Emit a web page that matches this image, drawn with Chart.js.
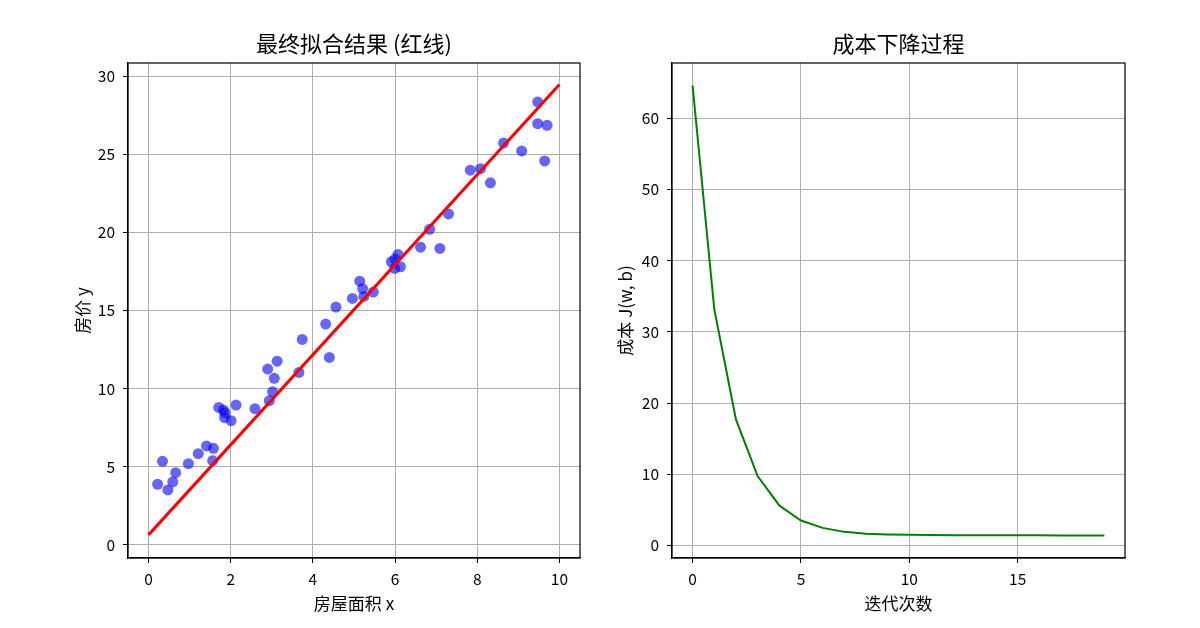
<!DOCTYPE html>
<html>
<head>
<meta charset="utf-8">
<script src="https://cdn.jsdelivr.net/npm/chart.js@4.4.1/dist/chart.umd.min.js"></script>
<style>
  html, body { margin: 0; padding: 0; background: #fff; }
  #wrap { position: relative; width: 1200px; height: 628px; }
  .cv { position: absolute; top: 0; width: 600px; height: 628px; }
</style>
</head>
<body>
<div id="wrap">
  <div class="cv" style="left:0"><canvas id="c1"></canvas></div>
  <div class="cv" style="left:600px"><canvas id="c2"></canvas></div>
</div>
<script>
// ---- data ----
const houseArea = [0.22,0.34,0.47,0.59,0.66,0.97,1.21,1.41,1.58,1.56,
                   1.71,1.82,1.86,1.85,2.01,2.13,2.59,2.94,3.02,2.90,
                   3.06,3.13,3.66,3.74,4.31,4.40,4.56,4.96,5.14,5.21,
                   5.24,5.47,5.91,6.07,5.99,6.13,6.00,6.62,6.84,7.09,
                   7.30,7.83,8.08,8.32,8.64,9.08,9.47,9.47,9.70,9.64];
const housePrice = [3.88,5.35,3.52,4.03,4.62,5.20,5.84,6.33,6.18,5.39,
                    8.80,8.63,8.45,8.14,7.95,8.95,8.72,9.23,9.80,11.25,
                    10.66,11.76,11.04,13.15,14.13,12.00,15.22,15.77,16.88,16.40,
                    15.90,16.18,18.12,18.59,17.69,17.80,18.30,19.05,20.20,18.97,
                    21.18,23.98,24.08,23.17,25.72,25.21,28.35,26.96,26.85,24.57];
const fitX = [0, 10];
const fitY = [0.64, 29.46];
const iterations = [0,1,2,3,4,5,6,7,8,9,10,11,12,13,14,15,16,17,18,19];
const cost = [64.6,33.2,17.7,9.74,5.62,3.51,2.47,1.91,1.63,1.55,
              1.49,1.47,1.45,1.44,1.43,1.42,1.42,1.41,1.41,1.41];
const leftXTicks = [0,2,4,6,8,10];
const leftYTicks = [0,5,10,15,20,25,30];
const rightXTicks = [0,5,10,15];
const rightYTicks = [0,10,20,30,40,50,60];

const FONT = '"Noto Sans CJK SC", "Noto Sans", sans-serif';

const framePlugin = {
  id: 'frame',
  afterDatasetsDraw(chart) {
    const {ctx, chartArea: a} = chart;
    ctx.save();
    ctx.strokeStyle = '#000';
    ctx.lineWidth = 1.2;
    ctx.strokeRect(a.left, a.top, a.right - a.left, a.bottom - a.top);
    ctx.restore();
  }
};

function fixedTicks(vals) {
  return function (scale) { scale.ticks = vals.map(v => ({value: v})); };
}

function axis(min, max, ticks, title, isX, fitSize) {
  return {
    type: 'linear',
    position: isX ? 'bottom' : 'left',
    min: min, max: max,
    afterBuildTicks: fixedTicks(ticks),
    afterFit(scale) { if (isX) scale.height = fitSize; else scale.width = fitSize; },
    grid: { color: '#b0b0b0', lineWidth: 1, tickColor: '#000', tickLength: 5, drawTicks: true },
    border: { display: true, color: '#000', width: 1.2 },
    ticks: { color: '#000', font: { family: FONT, size: 15.5 }, padding: isX ? 7 : 8,
             maxRotation: 0, autoSkip: false },
    title: { display: true, text: title, color: '#000', font: { family: FONT, size: 17 },
             padding: 0 }
  };
}

function titleOpt(text) {
  return { display: true, text: text, color: '#000', fullSize: false,
           font: { family: FONT, size: 22, weight: 'normal' },
           padding: { top: 30.8, bottom: 5.8 } };
}

Chart.defaults.animation = false;

new Chart(document.getElementById('c1'), {
  type: 'scatter',
  data: {
    datasets: [
      { type: 'line', label: 'fit', order: 0,
        data: fitX.map((x, i) => ({x: x, y: fitY[i]})),
        borderColor: '#ff0000', borderWidth: 3, pointRadius: 0, fill: false },
      { label: 'data', order: 1,
        data: houseArea.map((x, i) => ({x: x, y: housePrice[i]})),
        backgroundColor: 'rgba(0,0,255,0.6)', borderWidth: 0, pointRadius: 5.5 }
    ]
  },
  options: {
    responsive: true, maintainAspectRatio: false,
    layout: { padding: { left: 72.8, right: 20, top: 0, bottom: 13.8 } },
    plugins: { legend: { display: false }, tooltip: { enabled: false },
               title: titleOpt('最终拟合结果 (红线)') },
    scales: {
      x: axis(-0.5, 10.5, leftXTicks, '房屋面积 x', true, 56.2),
      y: axis(-0.84, 30.84, leftYTicks, '房价 y', false, 55.2)
    }
  },
  plugins: [framePlugin]
});

new Chart(document.getElementById('c2'), {
  type: 'line',
  data: {
    datasets: [
      { label: 'cost', data: iterations.map((x, i) => ({x: x, y: cost[i]})),
        borderColor: '#008000', borderWidth: 2, pointRadius: 0, fill: false, tension: 0 }
    ]
  },
  options: {
    responsive: true, maintainAspectRatio: false,
    layout: { padding: { left: 15.8, right: 75, top: 0, bottom: 13.8 } },
    plugins: { legend: { display: false }, tooltip: { enabled: false },
               title: titleOpt('成本下降过程') },
    scales: {
      x: axis(-0.95, 19.95, rightXTicks, '迭代次数', true, 56.2),
      y: axis(-1.76, 67.76, rightYTicks, '成本 J(w, b)', false, 56.2)
    }
  },
  plugins: [framePlugin]
});
</script>
</body>
</html>
